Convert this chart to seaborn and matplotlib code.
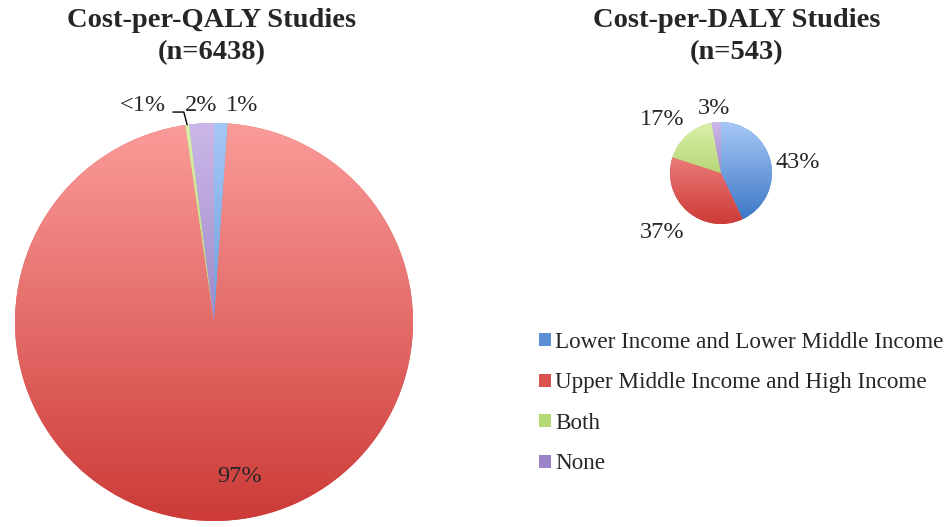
import numpy as np
import matplotlib
matplotlib.use('Agg')
import matplotlib.pyplot as plt
import seaborn as sns
from matplotlib.patches import Patch

# data
categories = ['Lower Income and Lower Middle Income',
              'Upper Middle Income and High Income',
              'Both', 'None']
qaly_share = [1.1, 96.6, 0.3, 2.0]
qaly_labels = ['1%', '97%', '<1%', '2%']
daly_share = [43, 37, 17, 3]
daly_labels = ['43%', '37%', '17%', '3%']
qaly_title = 'Cost-per-QALY Studies\n(n=6438)'
daly_title = 'Cost-per-DALY Studies\n(n=543)'

# gradient ends (top -> bottom) and legend swatch colours
light = ['#a6c8f6', '#fb9c9a', '#dbf0a8', '#cbb8e8']
dark = ['#3874c4', '#cc3b38', '#93bf48', '#7458ad']
swatch = ['#5b8fd6', '#d9534f', '#b5d975', '#9b85c8']

sns.set_theme(style='white')
plt.rcParams['font.family'] = ['Liberation Serif', 'DejaVu Serif']

W, H = 948, 527
fig = plt.figure(figsize=(W / 100, H / 100), dpi=100)


def px_axes(cx, cy, r):
    # axes box in pixel units (origin top-left), square around the pie
    return fig.add_axes([(cx - r) / W, (H - cy - r) / H, 2 * r / W, 2 * r / H])


def gradient_pie(ax, shares):
    wedges, _ = ax.pie(shares, startangle=90, counterclock=False, radius=1,
                       colors=swatch, wedgeprops=dict(linewidth=0))
    grad = np.linspace(0, 1, 256).reshape(-1, 1)
    for w, lo, hi in zip(wedges, light, dark):
        cmap = sns.blend_palette([lo, hi], as_cmap=True)
        im = ax.imshow(grad, extent=[-1, 1, -1, 1], cmap=cmap, aspect='auto',
                       origin='upper', zorder=2)
        im.set_clip_path(w)
    ax.set_xlim(-1, 1)
    ax.set_ylim(-1, 1)
    ax.set_aspect('equal')
    ax.axis('off')
    return wedges


label_size = 17.5

# left pie: QALY
ax1 = px_axes(214, 322, 199)
w1 = gradient_pie(ax1, qaly_share)
qaly_pos = [(0.14, 1.09), (0.13, -0.775), (-0.36, 1.09), (-0.065, 1.09)]
for lab, (x, y) in zip(qaly_labels, qaly_pos):
    ax1.text(x, y, lab, ha='center', va='center', fontsize=label_size, zorder=5)

# leader line for the thin "Both" slice
g = w1[2]
ang = np.deg2rad((g.theta1 + g.theta2) / 2)
ex, ey = np.cos(ang), np.sin(ang)
ax1.plot([ex, ex - 0.017, ex - 0.072], [ey, 1.055, 1.055], color='black',
         lw=1, clip_on=False, zorder=4)

# right pie: DALY
ax2 = px_axes(721, 173, 51)
gradient_pie(ax2, daly_share)
daly_pos = [(1.51, 0.2), (-1.16, -1.16), (-1.16, 1.04), (-0.14, 1.27)]
for lab, (x, y) in zip(daly_labels, daly_pos):
    ax2.text(x, y, lab, ha='center', va='center', fontsize=label_size, zorder=5)

# titles
fig.text(212 / W, 1 - 8 / H, qaly_title, ha='center', va='top',
         fontsize=20.5, fontweight='bold', linespacing=1.35)
fig.text(737 / W, 1 - 8 / H, daly_title, ha='center', va='top',
         fontsize=20.5, fontweight='bold', linespacing=1.35)

# legend
handles = [Patch(facecolor=c, edgecolor='none') for c in swatch]
fig.legend(handles=handles, labels=categories, loc='upper left',
           bbox_to_anchor=(539 / W, 1 - 332 / H), frameon=False,
           fontsize=16.7, handlelength=0.5, handleheight=0.5,
           handletextpad=0.2, labelspacing=0.84, borderaxespad=0, borderpad=0)

fig.savefig('out.png', dpi=100)
